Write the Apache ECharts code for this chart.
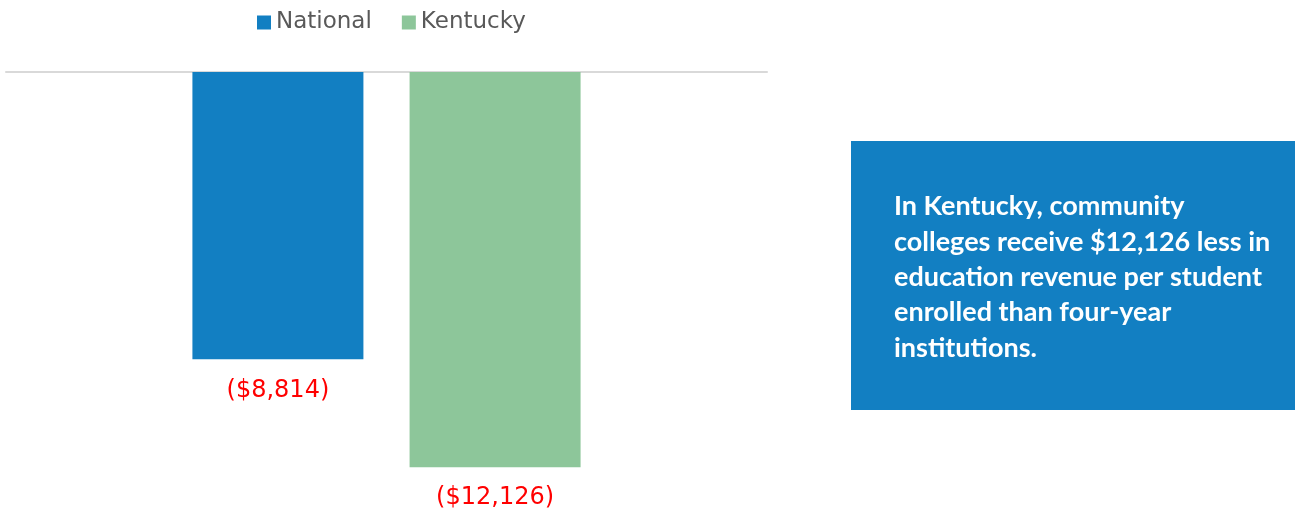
<!DOCTYPE html>
<html><head><meta charset="utf-8">
<script src="https://cdn.jsdelivr.net/npm/echarts@6/dist/echarts.min.js"></script>
<style>html,body{margin:0;padding:0;background:#fff}#c{width:1303px;height:512px}</style>
</head><body><div id="c"></div>
<script>
var categories = ['Revenue gap'];
var seriesNames = ['National', 'Kentucky'];
var nationalValues = [-8814];
var kentuckyValues = [-12126];
var noteLines = ['In Kentucky, community', 'colleges receive $12,126 less in', 'education revenue per student', 'enrolled than four-year', 'institutions.'];

function fmt(v){ return '($' + Math.abs(v).toLocaleString('en-US') + ')'; }
var labelCfg = {show:true, position:'bottom', distance:19, color:'#ff0000', fontFamily:'DejaVu Sans', fontSize:24, formatter:function(p){return fmt(p.value);}};
var chart = echarts.init(document.getElementById('c'));
chart.setOption({
  animation:false,
  legend:{data:seriesNames, top:6, left:252, itemWidth:14, itemHeight:14, itemGap:30, icon:'rect',
    textStyle:{color:'#595959', fontFamily:'DejaVu Sans', fontSize:23}},
  grid:{left:6, right:536, top:72, bottom:0},
  xAxis:{type:'category', data:categories, axisLine:{lineStyle:{color:'#d9d9d9', width:2}}, axisTick:{show:false}, axisLabel:{show:false}},
  yAxis:{type:'value', min:-13500, max:0, show:false, splitLine:{show:false}},
  series:[
    {name:seriesNames[0], type:'bar', data:nationalValues, barWidth:171, barGap:'27%', itemStyle:{color:'#127fc2'}, label:labelCfg},
    {name:seriesNames[1], type:'bar', data:kentuckyValues, barWidth:171, barGap:'27%', itemStyle:{color:'#8dc69a'}, label:labelCfg}
  ],
  graphic:[
    {type:'rect', shape:{x:851, y:141, width:444, height:269}, style:{fill:'#127fc2'}},
    {type:'text', x:894, y:189, style:{text:noteLines.join('\n'), fill:'#ffffff', font:'bold 27px Lato', lineHeight:35.3}}
  ]
});
</script></body></html>
